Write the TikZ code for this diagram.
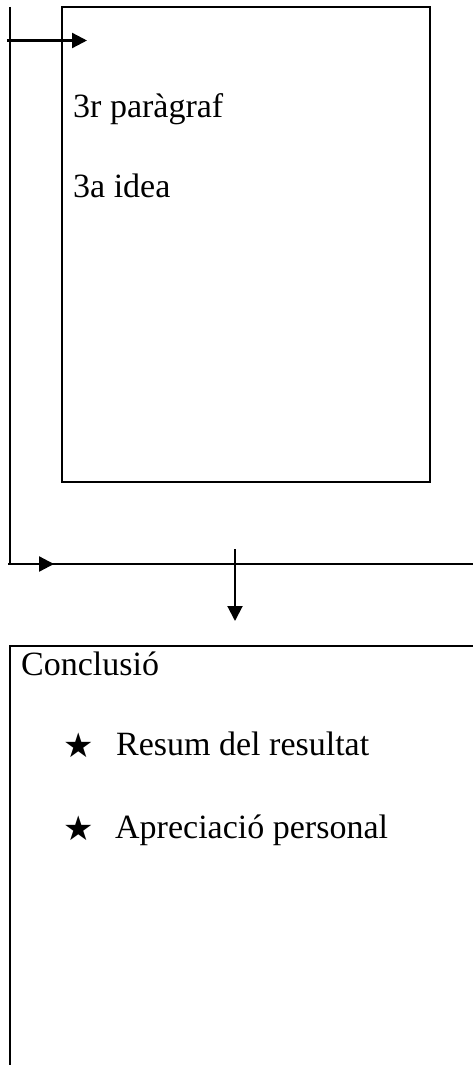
\documentclass[tikz,border=0pt]{standalone}
\usepackage{fontspec}
\setmainfont{Liberation Serif}
\newfontfamily\symfont{DejaVu Sans}
\usetikzlibrary{arrows.meta}
\begin{document}
\begin{tikzpicture}[x=1pt,y=-1pt,
  boxline/.style={line width=2.6pt},
  conn/.style={line width=2.3pt},
  arr/.style={conn,-{Triangle[length=15pt,width=15pt]}},
  txt/.style={anchor=base west,inner sep=0pt,font=\fontsize{34}{40}\selectfont},
  staricon/.style={anchor=center,inner sep=0pt,font=\symfont\fontsize{34}{40}\selectfont}]
\useasboundingbox (0,0) rectangle (473,1065);
% paragraph box
\node[draw,boxline,minimum width=368pt,minimum height=475pt,inner sep=0pt] (p3) at (246,244.5) {};
\node[txt] (t1) at (73,117) {3r paràgraf};
\node[txt] (t2) at (73,197) {3a idea};
% left loop line
\coordinate (ltop) at (10,7);
\coordinate (lbot) at (10,564);
\coordinate (ain) at (7,40.5);
\coordinate (ainend) at (87,40.5);
\coordinate (hl) at (8,564);
\coordinate (hr) at (473,564);
\coordinate (hmid) at (54,564);
\draw[conn] (ltop) -- (lbot);
\draw[arr] (ain) -- (ainend);
\draw[conn] (hl) -- (hr);
\draw[arr] (hl) -- (hmid);
% down arrow
\coordinate (dtop) at (235,549);
\coordinate (dbot) at (235,621);
\draw[arr,line width=2pt] (dtop) -- (dbot);
% conclusion box (partly visible)
\coordinate (cr) at (475,646);
\coordinate (cl) at (10,646);
\coordinate (cb) at (10,1067);
\draw[boxline] (cr) -- (cl) -- (cb);
\node[txt] (c0) at (21,675) {Conclusió};
\node[staricon] (s1) at (79,745) {★};
\node[txt] (c1) at (116,755) {Resum del resultat};
\node[staricon] (s2) at (79,828) {★};
\node[txt] (c2) at (115,838) {Apreciació personal};
\end{tikzpicture}
\end{document}
